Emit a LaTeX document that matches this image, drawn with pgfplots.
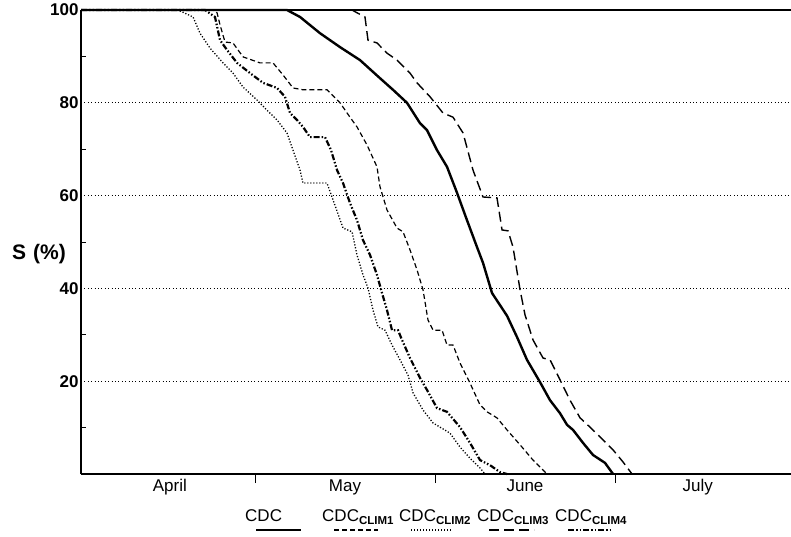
\documentclass[border=0pt]{standalone}
\usepackage{pgfplots}
\pgfplotsset{compat=1.18}
\usepackage{fontspec}
\setmainfont{Liberation Sans}
\begin{document}
\begin{tikzpicture}
\tikzset{
  cdc/.style={black, line width=2.4pt},
  climA/.style={black, line width=1.2pt, dash pattern=on 5pt off 3pt},
  climB/.style={black, line width=1.3pt, dash pattern=on 1.2pt off 1.8pt},
  climC/.style={black, line width=1.4pt, dash pattern=on 10pt off 5pt},
  climD/.style={black, line width=2.2pt, dash pattern=on 6pt off 2pt on 1.5pt off 2pt on 1.5pt off 2pt},
}
\begin{axis}[
  scale only axis, width=710pt, height=464pt,
  xmin=1, xmax=119.33, ymin=0, ymax=100,
  clip=false,
  axis x line*=bottom, axis y line*=left,
  axis line style={line width=1.8pt, black},
  major tick length=0pt,
  xtick={15.8,45,75,103.8},
  xticklabels={April,May,June,July},
  x tick label style={font=\fontsize{17}{17}\selectfont, yshift=-2pt},
  extra x ticks={30,60,90},
  extra x tick labels={},
  extra x tick style={tick align=outside, major tick length=9pt, tick style={line width=1pt, black}},
  ytick={20,40,60,80,100},
  y tick label style={font=\bfseries\fontsize{17}{17}\selectfont, xshift=1pt},
  /pgf/number format/assume math mode=true,
  ymajorgrids,
  major grid style={black, line width=0.7pt, dash pattern=on 0.8pt off 2.6pt},
  extra y ticks={10,30,50,70,90},
  extra y tick labels={},
  extra y tick style={grid=none, tick align=inside, major tick length=5pt, tick style={line width=0.8pt, black}},
]
\coordinate (ll) at (rel axis cs:0,0);
\coordinate (ur) at (rel axis cs:1,1);
\draw[black, line width=1.3pt] (rel axis cs:0,1) -- (rel axis cs:1,1);

% CDC
\addplot[cdc] coordinates {
(1,100) (35.33,100) (37.5,98.5) (40.83,95.0) (44.17,92.0) (47.5,89.2) (50.83,85.3)
(53.0,82.8) (55.33,80.0) (57.5,75.6) (58.67,74.1) (60.33,69.8) (62.0,66.2)
(63.67,60.6) (65.33,54.7) (67.0,48.9) (68.0,45.5) (69.5,39.0) (72.0,34.1)
(73.67,29.5) (75.33,24.6) (77.5,19.8) (79.17,15.9) (80.83,13.1) (82.0,10.6)
(83.0,9.5) (84.67,6.7) (86.33,4.1) (88.33,2.4) (89.67,0)
};
% CLIM1
\addplot[climA] coordinates {
(1,100) (23.0,100) (23.67,99.4) (24.17,96.8) (25.0,93.1) (26.33,92.9) (28.0,89.9)
(30.83,88.6) (33.0,88.6) (34.67,86.0) (36.33,83.2) (38.0,82.8) (42.0,82.8)
(44.17,80.0) (45.83,76.9) (47.0,74.8) (48.67,70.9) (50.33,66.2) (50.83,61.9)
(52.0,56.9) (53.67,53.0) (54.67,52.2) (55.83,48.3) (57.0,44.0) (58.0,39.7)
(58.83,33.2) (59.67,31.0) (61.17,31.0) (62.0,27.8) (63.0,27.8) (64.17,23.9)
(65.83,19.6) (67.5,14.9) (68.67,13.4) (70.33,12.1) (72.0,9.5) (74.17,6.3)
(76.33,3.0) (78.67,0)
};
% CLIM2
\addplot[climB] coordinates {
(1,100) (17.17,100) (17.83,99.6) (19.67,98.5) (20.83,95.0) (22.5,91.8) (24.67,88.6)
(26.33,86.4) (28.0,83.4) (30.33,80.6) (32.0,78.4) (33.67,76.3) (35.33,73.5)
(36.33,69.8) (37.5,65.5) (38.0,62.7) (42.0,62.7) (43.0,59.1) (44.67,53.0)
(46.17,52.2) (47.0,47.2) (48.0,42.9) (48.83,40.1) (49.67,35.3) (50.5,31.7)
(51.67,31.0) (52.83,27.8) (54.17,24.6) (55.5,21.3) (56.33,17.5) (58.0,13.8)
(59.67,11.0) (60.83,10.1) (62.5,8.8) (64.17,5.8) (65.83,3.4) (67.5,1.3) (68.33,0)
};
% CLIM3
\addplot[climC] coordinates {
(1,100) (46.17,100) (47.0,99.4) (48.33,98.5) (48.83,93.5) (50.33,92.9) (52.0,90.7)
(53.67,89.2) (55.83,86.4) (57.0,84.3) (59.17,81.3) (61.33,77.8) (63.0,76.9)
(64.67,73.5) (66.33,65.5) (68.0,59.7) (70.33,59.5) (71.17,52.6) (72.17,52.4)
(73.0,48.9) (74.17,39.7) (75.0,34.3) (76.33,28.9) (78.0,25.0) (79.17,24.6)
(80.83,20.3) (82.5,15.9) (84.17,12.1) (85.83,10.1) (87.5,8.0) (89.67,5.2)
(91.33,2.6) (92.83,0)
};
% CLIM4
\addplot[climD] coordinates {
(1,100) (21.67,100) (23.33,98.5) (24.17,93.5) (25.33,91.4) (27.0,88.6) (29.17,86.4)
(31.33,84.3) (33.67,83.2) (35.0,81.3) (35.83,77.8) (37.0,76.3) (38.0,74.8)
(39.17,72.6) (41.67,72.6) (42.67,69.8) (43.67,65.5) (44.67,62.7) (45.83,58.4)
(47.0,54.7) (48.0,50.4) (49.17,47.2) (50.33,42.9) (51.17,39.0) (52.0,35.3)
(52.83,31.0) (53.83,31.0) (54.5,28.9) (55.83,25.0) (57.5,20.7) (58.67,18.1)
(60.33,14.2) (62.0,13.4) (64.17,10.1) (65.83,6.7) (67.5,3.0) (69.17,1.9)
(70.83,0.4) (72.0,0)
};
\end{axis}
\node[anchor=east, font=\bfseries\fontsize{21}{21}\selectfont, inner sep=0pt]
  at ([xshift=-15pt, yshift=220pt]ll) {S\,\,(\%)};
\begin{scope}[every node/.style={anchor=base west, inner sep=0pt, font=\fontsize{17}{17}\selectfont}]
\newcommand{\sub}[1]{\raisebox{-3.5pt}{\fontsize{11.5}{11.5}\selectfont\bfseries #1}}
\node at ([xshift=164pt,yshift=-47pt]ll) {CDC};
\draw[cdc] ([xshift=175pt,yshift=-56pt]ll) -- ++(45pt,0);
\node at ([xshift=241pt,yshift=-47pt]ll) {CDC\sub{CLIM1}};
\draw[climA] ([xshift=253pt,yshift=-56pt]ll) -- ++(44pt,0);
\node at ([xshift=318pt,yshift=-47pt]ll) {CDC\sub{CLIM2}};
\draw[climB] ([xshift=330pt,yshift=-56pt]ll) -- ++(40pt,0);
\node at ([xshift=396pt,yshift=-47pt]ll) {CDC\sub{CLIM3}};
\draw[climC] ([xshift=408pt,yshift=-56pt]ll) -- ++(45pt,0);
\node at ([xshift=474pt,yshift=-47pt]ll) {CDC\sub{CLIM4}};
\draw[climD] ([xshift=487pt,yshift=-56pt]ll) -- ++(43pt,0);
\end{scope}
\pgfresetboundingbox
\path[use as bounding box] ([xshift=-81pt,yshift=-62pt]ll) rectangle ([yshift=10pt]ur);
\end{tikzpicture}
\end{document}
